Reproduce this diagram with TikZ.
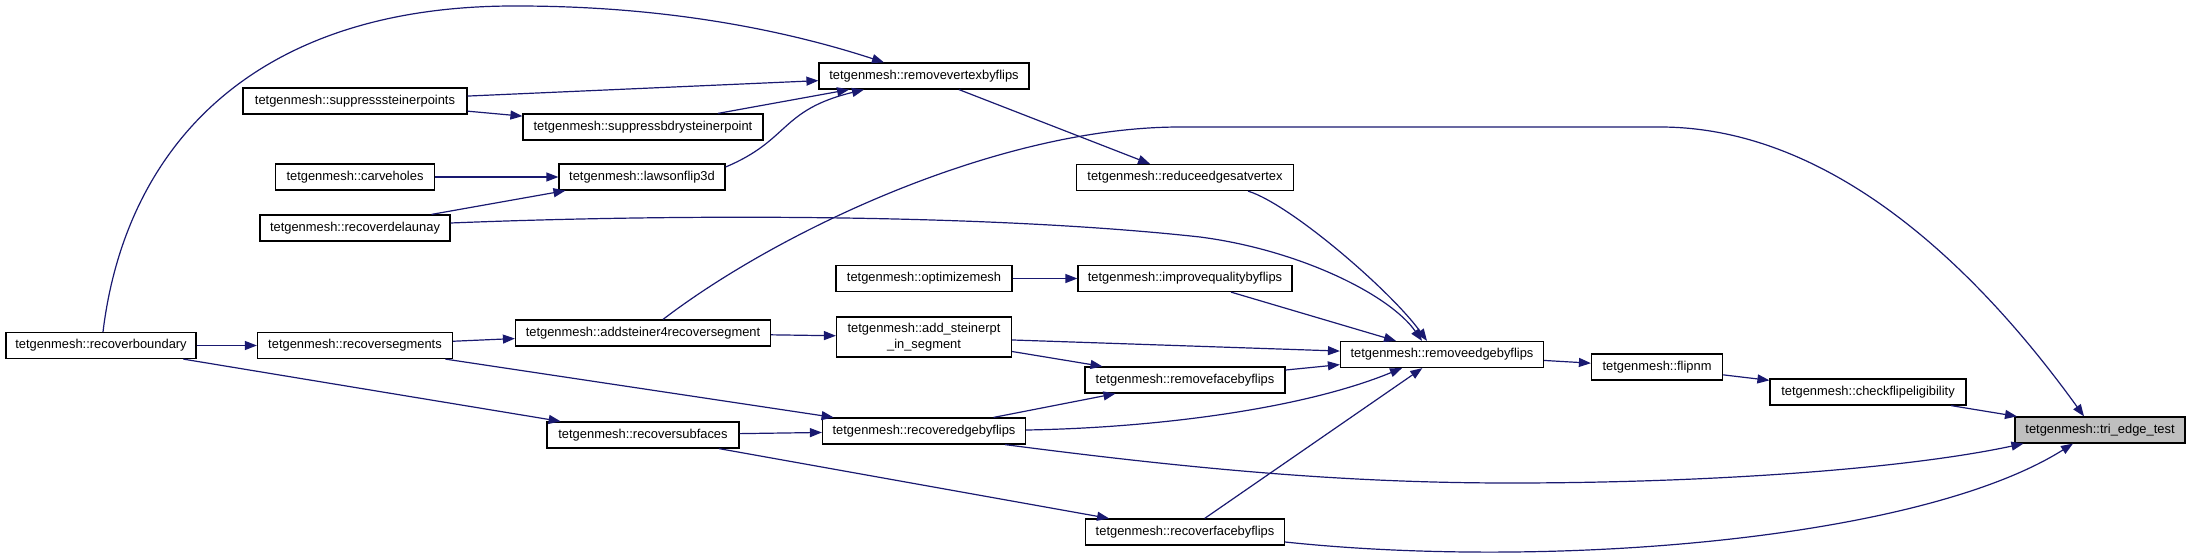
\documentclass[tikz,border=0pt]{standalone}
\usepackage{fontspec}
\setmainfont{Liberation Sans}
\usepackage{tikz}
\usetikzlibrary{arrows.meta}
\usepackage{xcolor}
\definecolor{edgeblue}{HTML}{191970}
\definecolor{rootgray}{HTML}{BFBFBF}
\tikzset{
fnbox/.style={rectangle,draw=black,line width=1.2pt,fill=white,
  minimum height=26pt,inner sep=0pt,align=center,font=\fontsize{12.9}{15.5}\selectfont},
fnroot/.style={fnbox,fill=rootgray},
callarr/.style={draw=edgeblue,line width=1.2pt,-{Triangle[length=12pt,width=9pt]}}
}

\begin{document}
\begin{tikzpicture}[x=1pt,y=-1pt]
\useasboundingbox (0,0) rectangle (2191,557);
\node[fnroot,minimum width=170pt] (tri) at (2100,430) {tetgenmesh::tri\_edge\_test};
\node[fnbox,minimum width=196pt] (check) at (1868,392) {tetgenmesh::checkflipeligibility};
\node[fnbox,minimum width=131pt] (flipnm) at (1657,367) {tetgenmesh::flipnm};
\node[fnbox,minimum width=203pt] (remedge) at (1442,354.5) {tetgenmesh::removeedgebyflips};
\node[fnbox,minimum width=217pt] (reduce) at (1185,177.5) {tetgenmesh::reduceedgesatvertex};
\node[fnbox,minimum width=214pt] (improve) at (1185,278.5) {tetgenmesh::improvequalitybyflips};
\node[fnbox,minimum width=200pt] (remface) at (1185,380) {tetgenmesh::removefacebyflips};
\node[fnbox,minimum width=199pt] (recface) at (1185,532) {tetgenmesh::recoverfacebyflips};
\node[fnbox,minimum width=210pt] (remvert) at (924,76) {tetgenmesh::removevertexbyflips};
\node[fnbox,minimum width=176pt] (optim) at (924,278.5) {tetgenmesh::optimizemesh};
\node[fnbox,minimum width=175pt,minimum height=40pt] (addpt) at (924,337) {tetgenmesh::add\_steinerpt\\\_in\_segment};
\node[fnbox,minimum width=203pt] (recedge) at (924,431) {tetgenmesh::recoveredgebyflips};
\node[fnbox,minimum width=240pt] (suppbdry) at (643,127) {tetgenmesh::suppressbdrysteinerpoint};
\node[fnbox,minimum width=166pt] (lawson) at (642,177) {tetgenmesh::lawsonflip3d};
\node[fnbox,minimum width=255pt] (addst4) at (643,333) {tetgenmesh::addsteiner4recoversegment};
\node[fnbox,minimum width=192pt] (recsubf) at (643,435) {tetgenmesh::recoversubfaces};
\node[fnbox,minimum width=224pt] (suppst) at (355,101) {tetgenmesh::suppresssteinerpoints};
\node[fnbox,minimum width=159pt] (carve) at (355,177) {tetgenmesh::carveholes};
\node[fnbox,minimum width=190pt] (recdel) at (355,228) {tetgenmesh::recoverdelaunay};
\node[fnbox,minimum width=195pt] (recseg) at (355,345.5) {tetgenmesh::recoversegments};
\node[fnbox,minimum width=190pt] (recbnd) at (101,345.5) {tetgenmesh::recoverboundary};
% straight calls
\draw[callarr] (check) -- (tri);
\draw[callarr] (flipnm) -- (check);
\draw[callarr] (remedge) -- (flipnm);
\draw[callarr] (improve) -- (remedge);
\draw[callarr] (addpt) -- (remedge);
\draw[callarr] (addpt) -- (remface);
\draw[callarr] (remface) -- (remedge);
\draw[callarr] (recedge) -- (remface);
\draw[callarr] (recface) -- (remedge);
\draw[callarr] (remvert) -- (reduce);
\draw[callarr] (suppst) -- (remvert);
\draw[callarr] (suppst) -- (suppbdry);
\draw[callarr] (suppbdry) -- (remvert);
\draw[callarr] (carve) -- (lawson);
\draw[callarr] (recdel) -- (lawson);
\draw[callarr] (recbnd) -- (recseg);
\draw[callarr] (recbnd) -- (recsubf);
\draw[callarr] (recseg) -- (addst4);
\draw[callarr] (recseg) -- (recedge);
\draw[callarr] (recsubf) -- (recedge);
\draw[callarr] (recsubf) -- (recface);
\draw[callarr] (addst4) -- (addpt);
\draw[callarr] (optim) -- (improve);
% curved calls
\draw[callarr] ([xshift=63pt]reduce.south) .. controls (1290,204) and (1390,290) .. ([xshift=-15pt]remedge.north);
\draw[callarr] ([yshift=5pt]recdel.east) .. controls (700,213) and (1000,215) .. (1200,237)
  .. controls (1300,250) and (1390,295) .. ([xshift=-20pt]remedge.north);
\draw[callarr] ([yshift=1pt]recedge.east) .. controls (1150,428) and (1300,410) .. ([xshift=-40pt]remedge.south);
\draw[callarr] ([xshift=81pt]recedge.south) .. controls (1200,470) and (1350,483) .. (1510,483)
  .. controls (1700,483) and (1900,470) .. ([xshift=9pt]tri.south west);
\draw[callarr] ([yshift=-10pt]recface.east) .. controls (1550,570) and (1920,540) .. ([xshift=-27pt]tri.south);
\draw[callarr] ([xshift=20pt]addst4.north) .. controls (780,230) and (1000,127) .. (1180,127) -- (1660,127)
  .. controls (1850,127) and (2000,300) .. ([xshift=-16pt]tri.north);
\draw[callarr] ([xshift=2pt]recbnd.north) .. controls (125,150) and (250,5) .. (517,6)
  .. controls (680,6) and (800,35) .. ([xshift=-40pt]remvert.north);
\draw[callarr] ([yshift=10pt]lawson.east) .. controls (790,140) and (780,110) .. ([xshift=-60pt]remvert.south);
\end{tikzpicture}
\end{document}
